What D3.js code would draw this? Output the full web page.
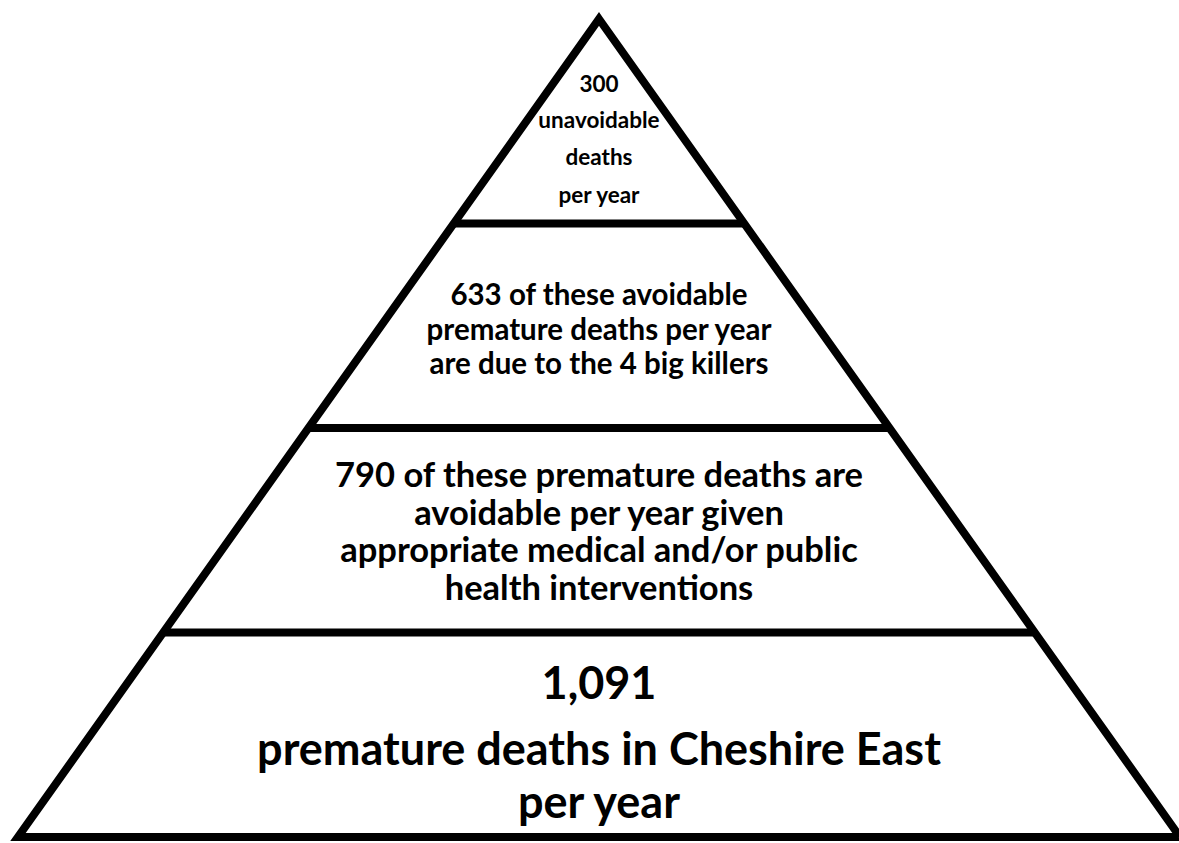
<!DOCTYPE html>
<html>
	<head>
		<meta charset="utf-8">
		<style>
			body { margin: 0; background: #fff; }
			.outline { fill: none; stroke: #000; stroke-width: 8px; stroke-linejoin: miter; }
			.divider { stroke: #000; stroke-width: 8px; }
			.label { font-family: Lato, "Open Sans", sans-serif; font-weight: bold; fill: #000; text-anchor: middle; }
		</style>
	</head>
	<body>
		<script src="https://d3js.org/d3.v7.min.js"></script>
		<script type="text/javascript">

			// tiers from apex to base: where each divider sits (fraction of pyramid height)
			var dividerLevels = [0.25, 0.5, 0.75];

			// text lines per tier
			var tierLines = [
				["300", "unavoidable", "deaths", "per year"],
				["633 of these avoidable", "premature deaths per year", "are due to the 4 big killers"],
				["790 of these premature deaths are", "avoidable per year given", "appropriate medical and/or public", "health interventions"],
				["1,091", "premature deaths in Cheshire East", "per year"]
			];

			// baseline of each line as fraction of pyramid height
			var tierBaselines = [
				[0.089, 0.133, 0.179, 0.225],
				[0.350, 0.392, 0.434],
				[0.572, 0.618, 0.664, 0.710],
				[0.831, 0.912, 0.977]
			];
			var tierFontSizes = [22.5, 29.5, 34.5, 45];

			var width = 1179, height = 843;
			var svg = d3.select("body")
				.append("svg")
					.attr("width", width)
					.attr("height", height);

			// scales: level 0 = apex, 1 = base
			var y = d3.scaleLinear().domain([0, 1]).range([19, 837]);
			var halfW = d3.scaleLinear().domain([0, 1]).range([0, 581]);
			var cx = 599;

			// outline of the pyramid
			svg.append("path")
				.attr("class", "outline")
				.attr("d", d3.line()([
					[cx, y(0)],
					[cx + halfW(1), y(1)],
					[cx - halfW(1), y(1)]
				]) + "Z");

			// horizontal dividers between tiers
			svg.selectAll("line.divider")
				.data(dividerLevels)
				.enter().append("line")
				.attr("class", "divider")
				.attr("x1", function(d) { return cx - halfW(d); })
				.attr("x2", function(d) { return cx + halfW(d); })
				.attr("y1", function(d) { return y(d); })
				.attr("y2", function(d) { return y(d); });

			// labels
			var tiers = svg.selectAll("g.tier")
				.data(tierLines)
				.enter().append("g")
				.attr("class", "tier");

			tiers.each(function(lines, i) {
				d3.select(this).selectAll("text")
					.data(lines)
					.enter().append("text")
					.attr("class", "label")
					.attr("x", cx)
					.attr("y", function(d, j) { return y(tierBaselines[i][j]); })
					.style("font-size", tierFontSizes[i] + "px")
					.text(function(d) { return d; });
			});
		</script>
	</body>
</html>
